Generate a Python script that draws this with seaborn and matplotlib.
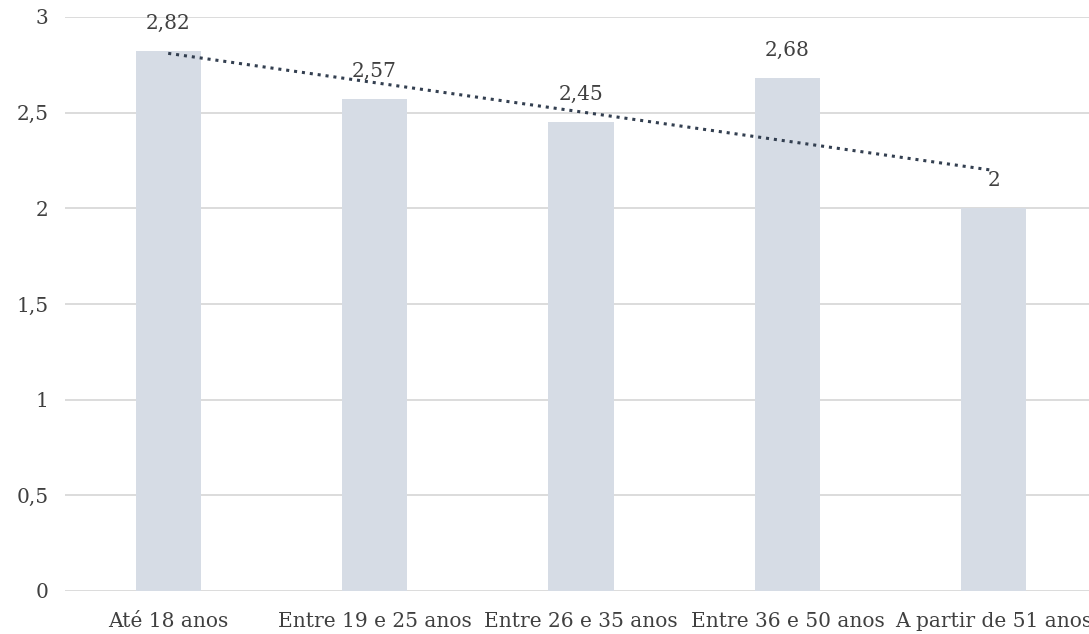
import matplotlib
matplotlib.use("Agg")
import matplotlib.pyplot as plt
import seaborn as sns
import numpy as np
import pandas as pd
from matplotlib.ticker import FuncFormatter

categories = ["Até 18 anos", "Entre 19 e 25 anos", "Entre 26 e 35 anos", "Entre 36 e 50 anos", "A partir de 51 anos"]
values = [2.82, 2.57, 2.45, 2.68, 2.00]
yticks = [0, 0.5, 1, 1.5, 2, 2.5, 3]

sns.set_theme(style="white")
plt.rcParams['font.family'] = ['DejaVu Serif']

df = pd.DataFrame({"cat": categories, "val": values})

fig = plt.figure(figsize=(10.89, 6.34), dpi=100)
ax = fig.add_axes([65/1089, 1 - 591/634, (1097 - 65)/1089, (591 - 17)/634])

sns.barplot(data=df, x="cat", y="val", color="#d6dce5", saturation=1, width=0.315,
            linewidth=0, ax=ax, zorder=2)

# linear trendline
xs = np.arange(len(values))
slope, intercept = np.polyfit(xs, values, 1)
ax.plot(xs, slope * xs + intercept, linestyle=(0, (1, 1.6)), color="#333f50", linewidth=2.2, zorder=4)

def fmt(v):
    s = f"{v:.2f}".rstrip("0").rstrip(".")
    return s.replace(".", ",")

for i, v in enumerate(values):
    ax.annotate(fmt(v), (i, v), xytext=(0, 13), textcoords="offset points",
                ha="center", va="bottom", fontsize=14.5, color="#404040", zorder=5)

ax.set_ylim(0, 3)
ax.set_xlim(-0.5, len(values) - 0.5)
ax.set_yticks(yticks)
ax.yaxis.set_major_formatter(FuncFormatter(lambda v, p: fmt(v)))
ax.grid(axis="y", color="#d9d9d9", linewidth=1.3, zorder=0)
ax.set_axisbelow(True)
for s in ax.spines.values():
    s.set_visible(False)
ax.tick_params(axis="y", length=0, pad=12, labelsize=14.5, labelcolor="#404040")
ax.tick_params(axis="x", length=0, pad=15, labelsize=14.5, labelcolor="#404040")
ax.set_xlabel("")
ax.set_ylabel("")

fig.savefig("out.png", dpi=100)
